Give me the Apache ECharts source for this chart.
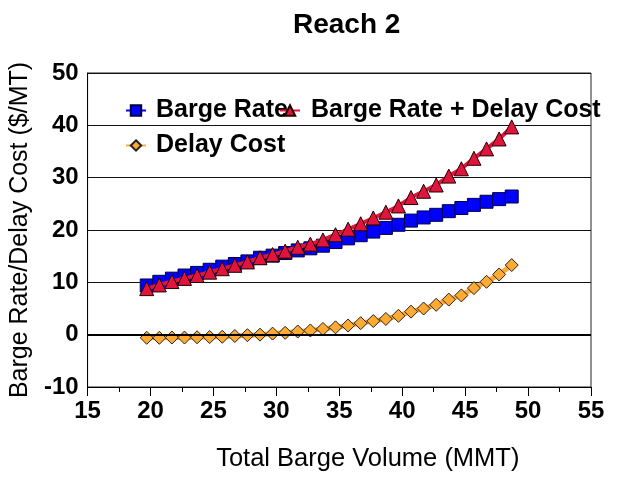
<!DOCTYPE html>
<html>
<head>
<meta charset="utf-8">
<script src="https://cdn.jsdelivr.net/npm/echarts@6/dist/echarts.min.js"></script>
<style>html,body{margin:0;padding:0;background:#fff}#c{width:621px;height:477px}</style>
</head>
<body>
<div id="c"></div>
<script>
var chartTitle = 'Reach 2';
var xAxisName = 'Total Barge Volume (MMT)';
var yAxisName = 'Barge Rate/Delay Cost ($/MT)';
var seriesNames = ['Barge Rate', 'Barge Rate + Delay Cost', 'Delay Cost'];
var volume = [19.7, 20.7, 21.7, 22.7, 23.7, 24.7, 25.7, 26.7, 27.7, 28.7, 29.7, 30.7, 31.7, 32.7, 33.7, 34.7, 35.7, 36.7, 37.7, 38.7, 39.7, 40.7, 41.7, 42.7, 43.7, 44.7, 45.7, 46.7, 47.7, 48.7];
var bargeRate = [9.4, 10.1, 10.7, 11.3, 11.8, 12.4, 13.0, 13.5, 14.0, 14.7, 15.1, 15.6, 16.1, 16.5, 17.0, 17.7, 18.4, 19.0, 19.7, 20.4, 21.0, 21.8, 22.4, 22.9, 23.6, 24.2, 24.8, 25.4, 25.9, 26.4];
var rateplusDelay = [8.8, 9.5, 10.15, 10.75, 11.3, 11.95, 12.6, 13.25, 13.9, 14.7, 15.3, 15.95, 16.7, 17.3, 18.1, 19.1, 20.15, 21.2, 22.3, 23.4, 24.6, 26.2, 27.4, 28.6, 30.3, 31.7, 33.7, 35.5, 37.4, 39.7];
var delayCost = [-0.6, -0.6, -0.55, -0.55, -0.5, -0.45, -0.4, -0.25, -0.1, 0.0, 0.2, 0.35, 0.6, 0.8, 1.1, 1.4, 1.75, 2.2, 2.6, 3.0, 3.6, 4.4, 5.0, 5.7, 6.7, 7.5, 8.9, 10.1, 11.5, 13.3];
var zeroLine = 0;

function pairs(vals) { return volume.map(function (x, i) { return [x, vals[i]]; }); }

var FONT = '"Liberation Sans", Arial, sans-serif';
var chart = echarts.init(document.getElementById('c'), null, {renderer: 'canvas'});

function legendAt(name, left, top, pad) {
  return {
    data: [name], left: left, top: top, orient: 'horizontal',
    itemWidth: 20, itemHeight: 13, padding: 0,
    textStyle: {fontFamily: FONT, fontSize: 25, fontWeight: 'bold', color: '#000', padding: [0, 0, 0, pad]}
  };
}

chart.setOption({
  animation: false,
  backgroundColor: '#fff',
  title: {
    text: chartTitle, left: 293, top: 11, padding: 0,
    textStyle: {fontFamily: FONT, fontSize: 28, fontWeight: 'bold', color: '#000'}
  },
  legend: [
    legendAt(seriesNames[0], 125, 98, 5),
    legendAt(seriesNames[1], 279, 98, 6),
    legendAt(seriesNames[2], 125, 133, 5)
  ],
  grid: {left: 84, right: 30, top: 73, bottom: 89, show: true, borderColor: '#222', borderWidth: 1, backgroundColor: 'transparent'},
  xAxis: {
    type: 'value', min: 15, max: 55, interval: 5,
    name: xAxisName, nameLocation: 'middle', nameGap: 59,
    nameTextStyle: {fontFamily: FONT, fontSize: 25.5, color: '#000', padding: [0, 0, 0, 57]},
    axisLine: {show: true, onZero: false, lineStyle: {color: '#000', width: 1}},
    axisTick: {show: true, length: 9, lineStyle: {color: '#000'}},
    minorTick: {show: true, splitNumber: 2, length: 5, lineStyle: {color: '#000'}},
    splitLine: {show: false},
    axisLabel: {fontFamily: FONT, fontSize: 24, fontWeight: 'bold', color: '#000', margin: 12}
  },
  yAxis: {
    type: 'value', min: -10, max: 50, interval: 10,
    name: yAxisName, nameLocation: 'middle', nameGap: 48,
    nameTextStyle: {fontFamily: FONT, fontSize: 25, color: '#000'},
    axisLine: {show: true, lineStyle: {color: '#000', width: 1}},
    axisTick: {show: false},
    splitLine: {show: true, lineStyle: {color: '#111', width: 1}},
    axisLabel: {fontFamily: FONT, fontSize: 24, fontWeight: 'bold', color: '#000', margin: 9}
  },
  series: [
    {
      name: seriesNames[0], type: 'line', data: pairs(bargeRate),
      symbol: 'rect', symbolSize: 13,
      lineStyle: {color: '#0000ff', width: 3},
      itemStyle: {color: '#0000ff', borderColor: '#000040', borderWidth: 1},
      markLine: {
        silent: true, symbol: 'none', label: {show: false},
        lineStyle: {color: '#000', width: 2, type: 'solid'},
        data: [{yAxis: zeroLine}]
      },
      z: 2
    },
    {
      name: seriesNames[1], type: 'line', data: pairs(rateplusDelay),
      symbol: 'triangle', symbolSize: 14,
      lineStyle: {color: '#e0143c', width: 4},
      itemStyle: {color: '#e0143c', borderColor: '#200000', borderWidth: 1},
      z: 3
    },
    {
      name: seriesNames[2], type: 'line', data: pairs(delayCost),
      symbol: 'diamond', symbolSize: 13,
      lineStyle: {color: '#ffaa33', width: 5},
      itemStyle: {color: '#ffaa33', borderColor: '#222', borderWidth: 1},
      z: 4
    }
  ]
});
</script>
</body>
</html>
